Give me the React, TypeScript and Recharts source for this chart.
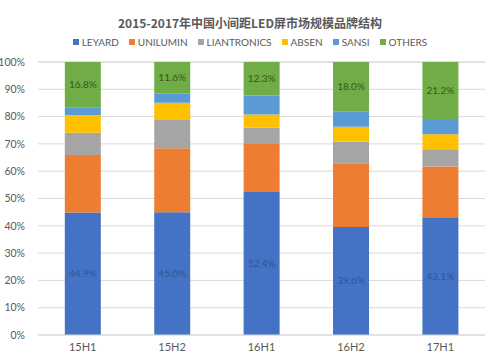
import { BarChart, Bar, XAxis, YAxis, CartesianGrid, Legend, LabelList } from 'recharts';

const periods = ['15H1', '15H2', '16H1', '16H2', '17H1'];
const seriesNames = ['LEYARD', 'UNILUMIN', 'LIANTRONICS', 'ABSEN', 'SANSI', 'OTHERS'];
const leyard = [44.9, 45.0, 52.4, 39.6, 43.1];
const unilumin = [21.0, 23.4, 17.8, 23.3, 18.6];
const liantronics = [8.2, 10.4, 5.7, 7.9, 6.3];
const absen = [6.5, 6.3, 4.9, 5.5, 5.5];
const sansi = [2.6, 3.3, 6.9, 5.7, 5.3];
const others = [16.8, 11.6, 12.3, 18.0, 21.2];
const yTicks = [0, 10, 20, 30, 40, 50, 60, 70, 80, 90, 100];

const chartData = periods.map((p, i) => ({
  period: p,
  LEYARD: leyard[i],
  UNILUMIN: unilumin[i],
  LIANTRONICS: liantronics[i],
  ABSEN: absen[i],
  SANSI: sansi[i],
  OTHERS: others[i],
}));

const font = 'Lato, "Noto Sans CJK SC", sans-serif';
const pct = (v: any) => `${Number(v).toFixed(1)}%`;

function LegendRow({ payload }: any) {
  const items = [...(payload || [])].sort(
    (a: any, b: any) => seriesNames.indexOf(a.value) - seriesNames.indexOf(b.value)
  );
  return (
    <div style={{ display: 'flex', justifyContent: 'center', gap: 10, fontSize: 10, color: '#595959', fontFamily: font }}>
      {items.map((it: any) => (
        <span key={it.value} style={{ display: 'flex', alignItems: 'center' }}>
          <span style={{ width: 6, height: 6, background: it.color, marginRight: 3, display: 'inline-block' }} />
          {it.value}
        </span>
      ))}
    </div>
  );
}

export default function App() {
  return (
    <div style={{ position: 'absolute', left: 0, top: 0, width: 500, height: 353, background: '#fff', fontFamily: font }}>
      <div style={{ position: 'absolute', top: 14, left: 0, width: 500, textAlign: 'center', fontSize: 12, fontWeight: 'bold', color: '#595959', fontFamily: '"Noto Sans CJK SC", sans-serif' }}>
        2015-2017年中国小间距LED屏市场规模品牌结构
      </div>
      <BarChart width={500} height={353} data={chartData} barCategoryGap="30%"
        margin={{ top: 50, right: 15, bottom: 0, left: 2 }}>
        <CartesianGrid vertical={false} stroke="#D9D9D9" />
        <XAxis dataKey="period" height={18} tickLine={false} tickSize={0} tickMargin={8}
          stroke="#D9D9D9" tick={{ fontSize: 11, fill: '#595959', fontFamily: font }} />
        <YAxis width={36} domain={[0, 100]} ticks={yTicks} tickFormatter={(v) => `${v}%`}
          axisLine={false} tickLine={false} tickMargin={7}
          tick={{ fontSize: 10.5, fill: '#595959', fontFamily: font }} />
        <Legend verticalAlign="top" align="center" content={<LegendRow />}
          wrapperStyle={{ top: 36, left: 0, width: 500 }} />
        <Bar dataKey="LEYARD" stackId="a" fill="#4472C4" isAnimationActive={false}>
          <LabelList dataKey="LEYARD" position="center" formatter={pct} fill="#2F5597" fontSize={10} />
        </Bar>
        <Bar dataKey="UNILUMIN" stackId="a" fill="#ED7D31" isAnimationActive={false} />
        <Bar dataKey="LIANTRONICS" stackId="a" fill="#A5A5A5" isAnimationActive={false} />
        <Bar dataKey="ABSEN" stackId="a" fill="#FFC000" isAnimationActive={false} />
        <Bar dataKey="SANSI" stackId="a" fill="#5B9BD5" isAnimationActive={false} />
        <Bar dataKey="OTHERS" stackId="a" fill="#70AD47" isAnimationActive={false}>
          <LabelList dataKey="OTHERS" position="center" formatter={pct} fill="#375623" fontSize={10} />
        </Bar>
      </BarChart>
    </div>
  );
}
